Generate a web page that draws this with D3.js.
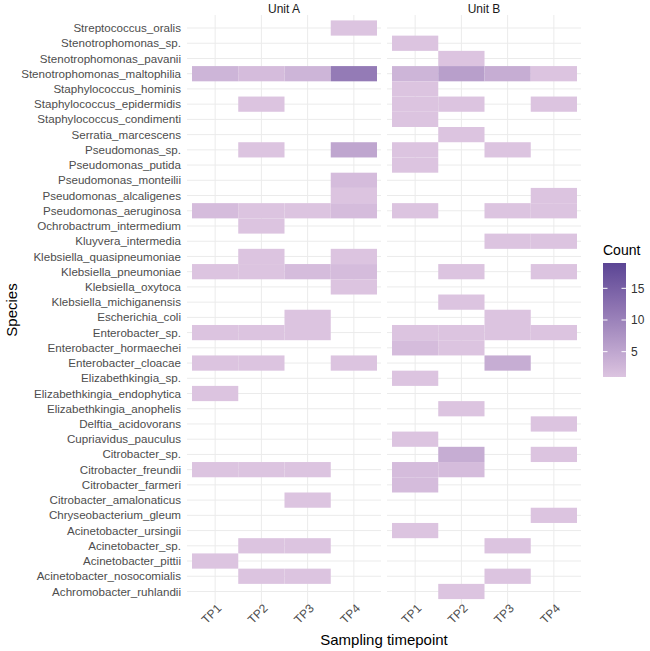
<!DOCTYPE html>
<html>
<head>
<meta charset="utf-8">
<script src="https://cdn.jsdelivr.net/npm/d3@7"></script>
<style>
  body { margin: 0; background: #fff; }
  text { font-family: "Liberation Sans", Arial, sans-serif; }
</style>
</head>
<body>
<div id="chart"></div>
<script>
// species, top to bottom
var species = [
  "Streptococcus_oralis", "Stenotrophomonas_sp.", "Stenotrophomonas_pavanii",
  "Stenotrophomonas_maltophilia", "Staphylococcus_hominis", "Staphylococcus_epidermidis",
  "Staphylococcus_condimenti", "Serratia_marcescens", "Pseudomonas_sp.",
  "Pseudomonas_putida", "Pseudomonas_monteilii", "Pseudomonas_alcaligenes",
  "Pseudomonas_aeruginosa", "Ochrobactrum_intermedium", "Kluyvera_intermedia",
  "Klebsiella_quasipneumoniae", "Klebsiella_pneumoniae", "Klebsiella_oxytoca",
  "Klebsiella_michiganensis", "Escherichia_coli", "Enterobacter_sp.",
  "Enterobacter_hormaechei", "Enterobacter_cloacae", "Elizabethkingia_sp.",
  "Elizabethkingia_endophytica", "Elizabethkingia_anophelis", "Delftia_acidovorans",
  "Cupriavidus_pauculus", "Citrobacter_sp.", "Citrobacter_freundii",
  "Citrobacter_farmeri", "Citrobacter_amalonaticus", "Chryseobacterium_gleum",
  "Acinetobacter_ursingii", "Acinetobacter_sp.", "Acinetobacter_pittii",
  "Acinetobacter_nosocomialis", "Achromobacter_ruhlandii"
];

var timepoints = ["TP1", "TP2", "TP3", "TP4"];
var units = ["Unit A", "Unit B"];
var legendTicks = [5, 10, 15];
var countRange = [1, 19];

// [species, timepoint, count]
var cellsA = [
  ["Streptococcus_oralis", "TP4", 1],
  ["Stenotrophomonas_maltophilia", "TP1", 3],
  ["Stenotrophomonas_maltophilia", "TP2", 2],
  ["Stenotrophomonas_maltophilia", "TP3", 3],
  ["Stenotrophomonas_maltophilia", "TP4", 11],
  ["Staphylococcus_epidermidis", "TP2", 1],
  ["Pseudomonas_sp.", "TP2", 1],
  ["Pseudomonas_sp.", "TP4", 5],
  ["Pseudomonas_monteilii", "TP4", 2],
  ["Pseudomonas_alcaligenes", "TP4", 1],
  ["Pseudomonas_aeruginosa", "TP1", 2],
  ["Pseudomonas_aeruginosa", "TP2", 1],
  ["Pseudomonas_aeruginosa", "TP3", 1],
  ["Pseudomonas_aeruginosa", "TP4", 2],
  ["Ochrobactrum_intermedium", "TP2", 1],
  ["Klebsiella_quasipneumoniae", "TP2", 1],
  ["Klebsiella_quasipneumoniae", "TP4", 1],
  ["Klebsiella_pneumoniae", "TP1", 1],
  ["Klebsiella_pneumoniae", "TP2", 1],
  ["Klebsiella_pneumoniae", "TP3", 2],
  ["Klebsiella_pneumoniae", "TP4", 2],
  ["Klebsiella_oxytoca", "TP4", 1],
  ["Escherichia_coli", "TP3", 1],
  ["Enterobacter_sp.", "TP1", 1],
  ["Enterobacter_sp.", "TP2", 1],
  ["Enterobacter_sp.", "TP3", 1],
  ["Enterobacter_cloacae", "TP1", 1],
  ["Enterobacter_cloacae", "TP2", 1],
  ["Enterobacter_cloacae", "TP4", 1],
  ["Elizabethkingia_endophytica", "TP1", 1],
  ["Citrobacter_freundii", "TP1", 1],
  ["Citrobacter_freundii", "TP2", 1],
  ["Citrobacter_freundii", "TP3", 1],
  ["Citrobacter_amalonaticus", "TP3", 1],
  ["Acinetobacter_sp.", "TP2", 1],
  ["Acinetobacter_sp.", "TP3", 1],
  ["Acinetobacter_pittii", "TP1", 1],
  ["Acinetobacter_nosocomialis", "TP2", 1],
  ["Acinetobacter_nosocomialis", "TP3", 1]
];

var cellsB = [
  ["Stenotrophomonas_sp.", "TP1", 1],
  ["Stenotrophomonas_pavanii", "TP2", 1],
  ["Stenotrophomonas_maltophilia", "TP1", 3],
  ["Stenotrophomonas_maltophilia", "TP2", 6],
  ["Stenotrophomonas_maltophilia", "TP3", 4],
  ["Stenotrophomonas_maltophilia", "TP4", 1],
  ["Staphylococcus_hominis", "TP1", 1],
  ["Staphylococcus_epidermidis", "TP1", 1],
  ["Staphylococcus_epidermidis", "TP2", 1],
  ["Staphylococcus_epidermidis", "TP4", 1],
  ["Staphylococcus_condimenti", "TP1", 1],
  ["Serratia_marcescens", "TP2", 1],
  ["Pseudomonas_sp.", "TP1", 1],
  ["Pseudomonas_sp.", "TP3", 1],
  ["Pseudomonas_putida", "TP1", 1],
  ["Pseudomonas_alcaligenes", "TP4", 1],
  ["Pseudomonas_aeruginosa", "TP1", 1],
  ["Pseudomonas_aeruginosa", "TP3", 1],
  ["Pseudomonas_aeruginosa", "TP4", 1],
  ["Kluyvera_intermedia", "TP3", 1],
  ["Kluyvera_intermedia", "TP4", 1],
  ["Klebsiella_pneumoniae", "TP2", 1],
  ["Klebsiella_pneumoniae", "TP4", 1],
  ["Klebsiella_michiganensis", "TP2", 1],
  ["Escherichia_coli", "TP3", 1],
  ["Enterobacter_sp.", "TP1", 1],
  ["Enterobacter_sp.", "TP2", 1],
  ["Enterobacter_sp.", "TP3", 1],
  ["Enterobacter_sp.", "TP4", 1],
  ["Enterobacter_hormaechei", "TP1", 2],
  ["Enterobacter_hormaechei", "TP2", 1],
  ["Enterobacter_cloacae", "TP3", 4],
  ["Elizabethkingia_sp.", "TP1", 1],
  ["Elizabethkingia_anophelis", "TP2", 1],
  ["Delftia_acidovorans", "TP4", 1],
  ["Cupriavidus_pauculus", "TP1", 1],
  ["Citrobacter_sp.", "TP2", 4],
  ["Citrobacter_sp.", "TP4", 1],
  ["Citrobacter_freundii", "TP1", 2],
  ["Citrobacter_freundii", "TP2", 2],
  ["Citrobacter_farmeri", "TP1", 2],
  ["Chryseobacterium_gleum", "TP4", 1],
  ["Acinetobacter_ursingii", "TP1", 1],
  ["Acinetobacter_sp.", "TP3", 1],
  ["Acinetobacter_nosocomialis", "TP3", 1],
  ["Achromobacter_ruhlandii", "TP2", 1]
];

var cellsByUnit = [cellsA, cellsB];

var svgWidth = 650, svgHeight = 651;

var svg = d3.select("#chart")
  .append("svg")
  .attr("width", svgWidth)
  .attr("height", svgHeight);

// panel geometry
var panelTop = 15, panelBottom = 604;
var panels = [
  { left: 187, right: 381 },
  { left: 387, right: 581 }
];

var y = d3.scaleBand()
  .domain(species)
  .range([20.4, 599.1])
  .paddingInner(0);

var color = d3.scaleLinear()
  .domain(countRange)
  .range(["#dcc4e0", "#5b4594"])
  .interpolate(d3.interpolateLab)
  .clamp(true);

var gridColor = "#ebebeb";

panels.forEach(function(p, i) {
  var x = d3.scaleBand()
    .domain(timepoints)
    .range([p.left + 5, p.right - 4])
    .paddingInner(0);

  var g = svg.append("g");

  // gridlines
  g.selectAll(".hgrid")
    .data(species)
    .enter()
    .append("line")
    .attr("x1", p.left)
    .attr("x2", p.right)
    .attr("y1", d => y(d) + y.bandwidth() / 2)
    .attr("y2", d => y(d) + y.bandwidth() / 2)
    .attr("stroke", gridColor)
    .attr("stroke-width", 1);

  g.selectAll(".vgrid")
    .data(timepoints)
    .enter()
    .append("line")
    .attr("y1", panelTop)
    .attr("y2", panelBottom)
    .attr("x1", d => x(d) + x.bandwidth() / 2)
    .attr("x2", d => x(d) + x.bandwidth() / 2)
    .attr("stroke", gridColor)
    .attr("stroke-width", 1);

  // tiles
  g.selectAll(".tile")
    .data(cellsByUnit[i])
    .enter()
    .append("rect")
    .attr("x", d => x(d[1]))
    .attr("y", d => y(d[0]))
    .attr("width", x.bandwidth())
    .attr("height", y.bandwidth())
    .attr("fill", d => color(d[2]));

  // strip title
  g.append("text")
    .attr("x", (p.left + p.right) / 2)
    .attr("y", 13)
    .attr("text-anchor", "middle")
    .attr("font-size", "12px")
    .attr("fill", "#1a1a1a")
    .text(units[i]);

  // x tick labels, rotated
  g.selectAll(".xlab")
    .data(timepoints)
    .enter()
    .append("text")
    .attr("transform", d => `translate(${x(d) + x.bandwidth() / 2 + 7}, ${609}) rotate(-45)`)
    .attr("text-anchor", "end")
    .attr("font-size", "12px")
    .attr("fill", "#4d4d4d")
    .text(d => d);
});

// y labels
svg.selectAll(".ylab")
  .data(species)
  .enter()
  .append("text")
  .attr("x", 181)
  .attr("y", d => y(d) + y.bandwidth() / 2)
  .attr("dy", "0.35em")
  .attr("text-anchor", "end")
  .attr("font-size", "11.6px")
  .attr("fill", "#4d4d4d")
  .text(d => d);

// axis titles
svg.append("text")
  .attr("x", 384)
  .attr("y", 645)
  .attr("text-anchor", "middle")
  .attr("font-size", "15px")
  .attr("fill", "#000")
  .text("Sampling timepoint");

svg.append("text")
  .attr("transform", "translate(17, 310) rotate(-90)")
  .attr("text-anchor", "middle")
  .attr("font-size", "15px")
  .attr("fill", "#000")
  .text("Species");

// legend
var legTop = 263, legBottom = 377, legLeft = 603, legW = 23;
var legScale = d3.scaleLinear()
  .domain(countRange)
  .range([legBottom, legTop]);

var defs = svg.append("defs");
var grad = defs.append("linearGradient")
  .attr("id", "countGrad")
  .attr("x1", "0").attr("y1", "1")
  .attr("x2", "0").attr("y2", "0");
d3.range(0, 1.0001, 0.1).forEach(function(t) {
  var v = countRange[0] + t * (countRange[1] - countRange[0]);
  grad.append("stop")
    .attr("offset", t)
    .attr("stop-color", color(v));
});

svg.append("text")
  .attr("x", legLeft)
  .attr("y", 255)
  .attr("font-size", "14px")
  .attr("fill", "#000")
  .text("Count");

svg.append("rect")
  .attr("x", legLeft)
  .attr("y", legTop)
  .attr("width", legW)
  .attr("height", legBottom - legTop)
  .attr("fill", "url(#countGrad)");

var legTickG = svg.append("g");
legendTicks.forEach(function(t) {
  var ty = legScale(t);
  legTickG.append("line")
    .attr("x1", legLeft).attr("x2", legLeft + 4.5)
    .attr("y1", ty).attr("y2", ty)
    .attr("stroke", "#fff").attr("stroke-width", 1);
  legTickG.append("line")
    .attr("x1", legLeft + legW - 4.5).attr("x2", legLeft + legW)
    .attr("y1", ty).attr("y2", ty)
    .attr("stroke", "#fff").attr("stroke-width", 1);
  legTickG.append("text")
    .attr("x", legLeft + legW + 5)
    .attr("y", ty)
    .attr("dy", "0.35em")
    .attr("font-size", "12px")
    .attr("fill", "#333")
    .text(t);
});
</script>
</body>
</html>
